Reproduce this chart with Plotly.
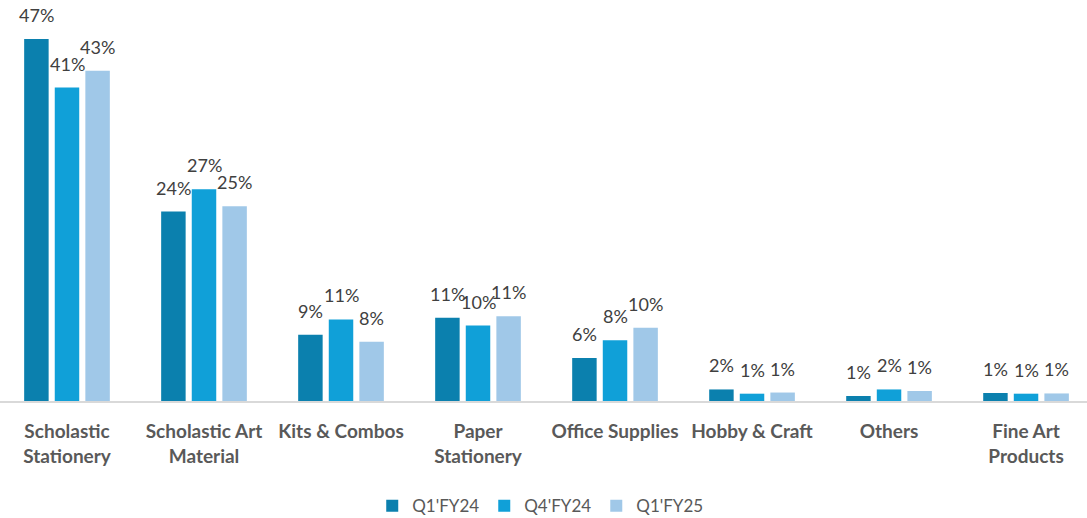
import plotly.graph_objects as go

categories = ["Scholastic<br>Stationery", "Scholastic Art<br>Material", "Kits & Combos",
              "Paper<br>Stationery", "Office Supplies", "Hobby & Craft", "Others",
              "Fine Art<br>Products"]
series_names = ["Q1'FY24", "Q4'FY24", "Q1'FY25"]
q1_fy24 = [47.0, 24.6, 8.6, 10.8, 5.6, 1.5, 0.65, 1.04]
q4_fy24 = [40.7, 27.5, 10.6, 9.8, 7.9, 0.95, 1.5, 0.95]
q1_fy25 = [42.9, 25.3, 7.7, 11.0, 9.5, 1.1, 1.3, 0.98]
q1_fy24_labels = ["47%", "24%", "9%", "11%", "6%", "2%", "1%", "1%"]
q4_fy24_labels = ["41%", "27%", "11%", "10%", "8%", "1%", "2%", "1%"]
q1_fy25_labels = ["43%", "25%", "8%", "11%", "10%", "1%", "1%", "1%"]

colors = ["#0b80ae", "#10a0d8", "#a0c8e8"]
series = [q1_fy24, q4_fy24, q1_fy25]
labels = [q1_fy24_labels, q4_fy24_labels, q1_fy25_labels]

W, H = 1087, 518
FONT = "Lato"
bargap = 0.33
x_lo, x_hi = -0.489, 7.445
cat_px = W / (x_hi - x_lo)
slot_px = cat_px * (1 - bargap) / 3

fig = go.Figure()
for name, vals, col in zip(series_names, series, colors):
    fig.add_trace(go.Bar(x=categories, y=vals, name=name, marker=dict(color=col, line=dict(width=0))))

for i, (vals, labs) in enumerate(zip(series, labels)):
    for cat, v, lab in zip(categories, vals, labs):
        fig.add_annotation(x=cat, y=v, xref="x", yref="y", text=lab, showarrow=False,
                           yanchor="bottom", xanchor="center", yshift=11,
                           xshift=(i - 1) * slot_px,
                           font=dict(family=FONT, size=18, color="#404040"))

fig.update_layout(
    width=W, height=H,
    margin=dict(l=0, r=0, t=0, b=117),
    plot_bgcolor="white", paper_bgcolor="white",
    barmode="group", bargap=bargap, bargroupgap=0.2,
    font=dict(family=FONT, size=17, color="#595959"),
    xaxis=dict(range=[x_lo, x_hi], showline=True, linecolor="#d9d9d9", linewidth=2,
               ticks="", showgrid=False, ticklabelstandoff=12, automargin=False,
               tickfont=dict(family=FONT, size=19, color="#595959", weight="bold")),
    yaxis=dict(range=[0, 401 / 7.7], visible=False, showgrid=False),
    legend=dict(orientation="h", x=0.497, xanchor="center", yref="container", y=0.023,
                yanchor="middle", font=dict(family=FONT, size=17, color="#595959")),
)

fig.write_html("out.html", config={"displayModeBar": False},
               post_script="document.body.style.margin='0';")
